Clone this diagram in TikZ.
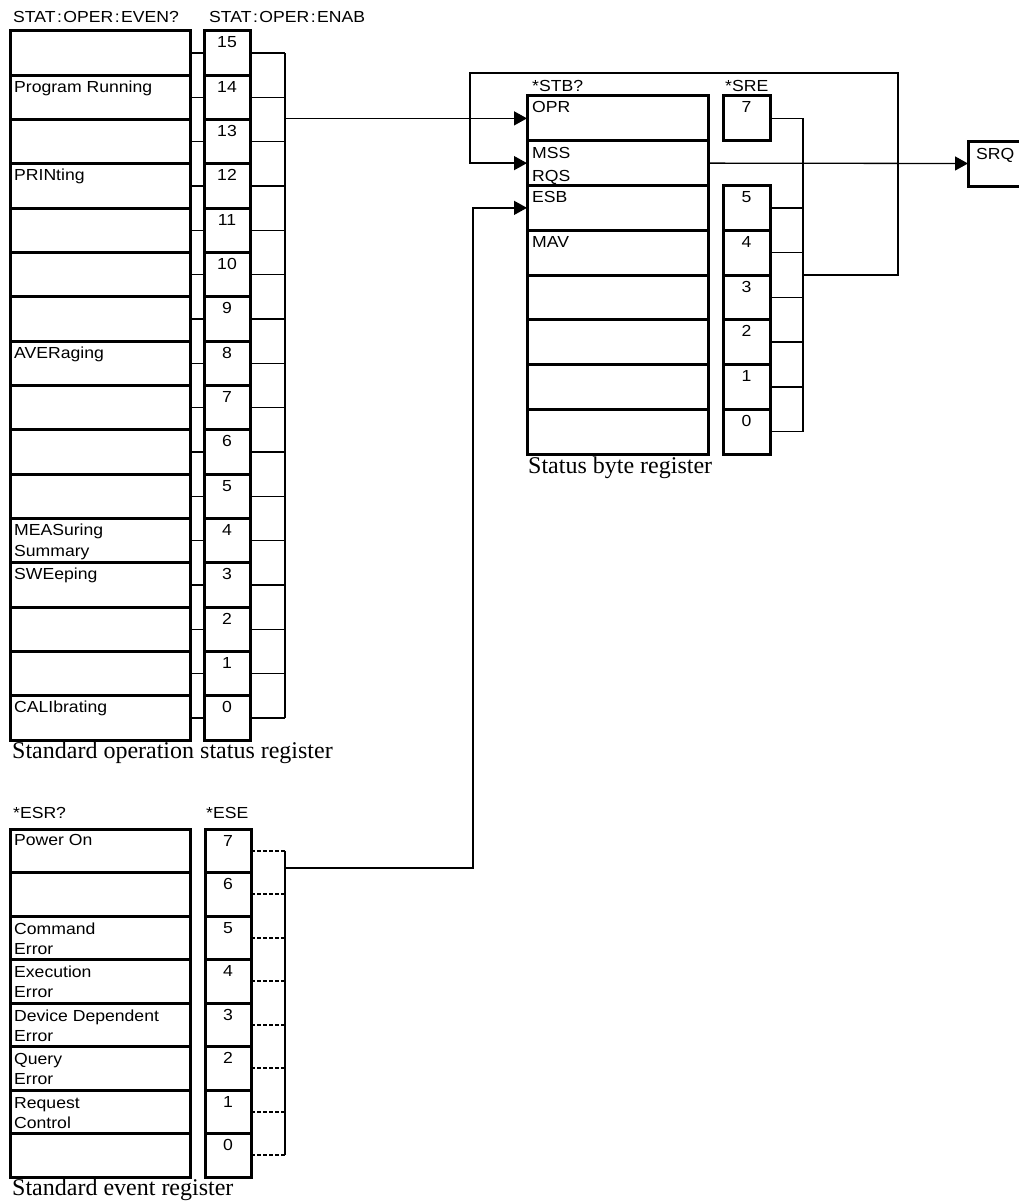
\documentclass[tikz,border=0pt]{standalone}
\usepackage{fontspec}
\setmainfont{Liberation Serif}
\newfontfamily\gothic[FakeStretch=1.1]{Liberation Sans}
\usetikzlibrary{arrows.meta}
\begin{document}
\begin{tikzpicture}[x=1pt,y=-1pt,
  regbox/.style={draw, line width=3pt, inner sep=0pt, outer sep=0pt, anchor=north west},
  wire/.style={line width=1.3pt},
  dwire/.style={line width=1.8pt, dash pattern=on 4pt off 2pt},
  feed/.style={wire, -{Triangle[length=13pt,width=14pt]}},
  celltxt/.style={font=\gothic\fontsize{16}{21}\selectfont, inner sep=0pt, anchor=base west},
  numtxt/.style={font=\gothic\fontsize{16}{21}\selectfont, inner sep=0pt, anchor=base},
  hdr/.style={font=\gothic\fontsize{16}{21}\selectfont, inner sep=0pt, anchor=base west},
  captxt/.style={font=\fontsize{24}{28}\selectfont, inner sep=0pt, anchor=base west},
]
\useasboundingbox (0,0) rectangle (1018,1204);
\fill[white] (0,0) rectangle (1018,1204);

% ---------- Standard operation status register ----------
\coordinate (opbus) at (285,0);
\foreach \b in {15,...,0} {
  \pgfmathsetmacro\ty{30.7+(15-\b)*44.35}
  \node[regbox, minimum width=180pt, minimum height=44.35pt] (op\b) at (10,\ty) {};
  \node[regbox, minimum width=46pt, minimum height=44.35pt] (en\b) at (204,\ty) {};
  \node[numtxt] (enl\b) at ([yshift=-17pt]en\b.north) {\b};
  \draw[wire] (op\b.east) -- (en\b.west);
  \draw[wire] (en\b.east) -- (en\b.east -| opbus);
}
\draw[wire] (en15.east -| opbus) -- (en0.east -| opbus);

\node[celltxt] (t14) at ([shift={(4pt,-17pt)}]op14.north west) {Program Running};
\node[celltxt] (t12) at ([shift={(4pt,-17pt)}]op12.north west) {PRINting};
\node[celltxt] (t8)  at ([shift={(4pt,-17pt)}]op8.north west) {AVERaging};
\node[celltxt] (t4a) at ([shift={(4pt,-17pt)}]op4.north west) {MEASuring};
\node[celltxt] (t4b) at ([shift={(4pt,-38pt)}]op4.north west) {Summary};
\node[celltxt] (t3)  at ([shift={(4pt,-17pt)}]op3.north west) {SWEeping};
\node[celltxt] (t0)  at ([shift={(4pt,-17pt)}]op0.north west) {CALIbrating};

\node[hdr] (h1) at (13,23) {STAT\kern1.5pt:\kern1.5pt OPER\kern1.5pt:\kern1.5pt EVEN?};
\node[hdr] (h2) at (209,23) {STAT\kern1.5pt:\kern1.5pt OPER\kern1.5pt:\kern1.5pt ENAB};
\node[captxt] (c1) at (12,758) {Standard operation status register};

% ---------- Status byte register ----------
\coordinate (srebus) at (803,0);
\foreach \b in {7,...,0} {
  \pgfmathsetmacro\ty{96+(7-\b)*44.75}
  \node[regbox, minimum width=181pt, minimum height=44.75pt] (sb\b) at (527,\ty) {};
}
\foreach \b in {7,5,4,3,2,1,0} {
  \pgfmathsetmacro\ty{96+(7-\b)*44.75}
  \node[regbox, minimum width=47pt, minimum height=44.75pt] (sre\b) at (723,\ty) {};
  \node[numtxt] (srel\b) at ([yshift=-17pt]sre\b.north) {\b};
  \draw[wire] (sre\b.east) -- (sre\b.east -| srebus);
}
\draw[wire] (sre7.east -| srebus) -- (sre0.east -| srebus);

\node[celltxt] (s7)  at ([shift={(5pt,-17pt)}]sb7.north west) {OPR};
\node[celltxt] (s6a) at ([shift={(5pt,-18pt)}]sb6.north west) {MSS};
\node[celltxt] (s6b) at ([shift={(5pt,-41pt)}]sb6.north west) {RQS};
\node[celltxt] (s5)  at ([shift={(5pt,-17pt)}]sb5.north west) {ESB};
\node[celltxt] (s4)  at ([shift={(5pt,-17pt)}]sb4.north west) {MAV};

\node[hdr] (h3) at (532,92) {*STB?};
\node[hdr] (h4) at (725,92) {*SRE};
\node[captxt] (c2) at (528,473) {Status byte register};

% SRQ
\node[regbox, minimum width=52pt, minimum height=45pt] (srq) at (968,141) {};
\node[celltxt] (srqt) at ([shift={(8pt,-18pt)}]srq.north west) {SRQ};

% ---------- Standard event register ----------
\coordinate (evbus) at (285,0);
\foreach \b in {7,...,0} {
  \pgfmathsetmacro\ty{829+(7-\b)*43.5}
  \node[regbox, minimum width=180pt, minimum height=43.5pt] (ev\b) at (10,\ty) {};
  \node[regbox, minimum width=46pt, minimum height=43.5pt] (ese\b) at (205,\ty) {};
  \node[numtxt] (esel\b) at ([yshift=-17pt]ese\b.north) {\b};
  \draw[dwire] (ese\b.east) -- (ese\b.east -| evbus);
}
\draw[wire] (ese7.east -| evbus) -- (ese0.east -| evbus);

\node[celltxt] (e7)  at ([shift={(4pt,-16pt)}]ev7.north west) {Power On};
\node[celltxt] (e5a) at ([shift={(4pt,-18pt)}]ev5.north west) {Command};
\node[celltxt] (e5b) at ([shift={(4pt,-38pt)}]ev5.north west) {Error};
\node[celltxt] (e4a) at ([shift={(4pt,-18pt)}]ev4.north west) {Execution};
\node[celltxt] (e4b) at ([shift={(4pt,-38pt)}]ev4.north west) {Error};
\node[celltxt] (e3a) at ([shift={(4pt,-18pt)}]ev3.north west) {Device Dependent};
\node[celltxt] (e3b) at ([shift={(4pt,-38pt)}]ev3.north west) {Error};
\node[celltxt] (e2a) at ([shift={(4pt,-18pt)}]ev2.north west) {Query};
\node[celltxt] (e2b) at ([shift={(4pt,-38pt)}]ev2.north west) {Error};
\node[celltxt] (e1a) at ([shift={(4pt,-18pt)}]ev1.north west) {Request};
\node[celltxt] (e1b) at ([shift={(4pt,-38pt)}]ev1.north west) {Control};

\node[hdr] (h5) at (13,818) {*ESR?};
\node[hdr] (h6) at (206,818) {*ESE};
\node[captxt] (c3) at (12,1195) {Standard event register};

% ---------- Connectors between registers ----------
\draw[feed] (sb7.west -| opbus) -- (sb7.west);
\coordinate (sreout) at (803,275);
\coordinate (loopA) at (898,73);
\coordinate (loopB) at (470,73);
\draw[feed] (sreout) -| (loopA) -- (loopB) |- (sb6.west);
\draw[feed] (sb6.east) -- (srq.west);
\coordinate (evout) at (285,868);
\coordinate (esbx) at (473,868);
\draw[feed] (evout) -- (esbx) |- (sb5.west);
\end{tikzpicture}
\end{document}
